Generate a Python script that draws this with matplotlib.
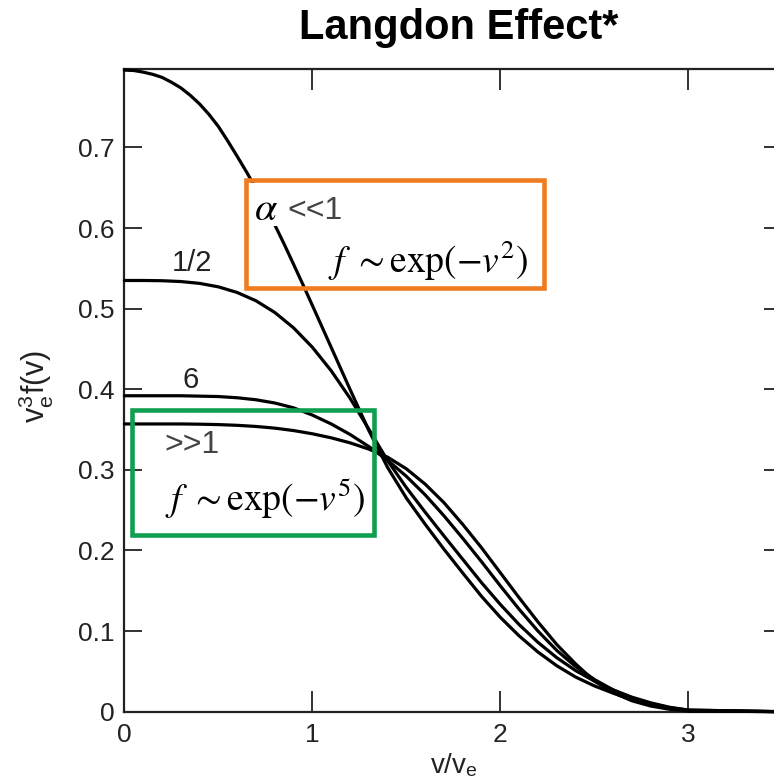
import matplotlib.pyplot as plt
from matplotlib.patches import Rectangle

plt.rcParams['font.family'] = ['Liberation Sans', 'DejaVu Sans']
plt.rcParams['mathtext.fontset'] = 'stix'

# v / v_e
v_grid = [0.0, 0.1, 0.2, 0.3, 0.4, 0.5, 0.6, 0.7, 0.8, 0.9,
          1.0, 1.1, 1.2, 1.3, 1.4, 1.5, 1.6, 1.7, 1.8, 1.9,
          2.0, 2.1, 2.2, 2.3, 2.4, 2.5, 2.6, 2.7, 2.8, 2.9,
          3.0, 3.5]
# the steep alpha << 1 curve is read at a finer step near the top
v_grid_small = [0.0, 0.05, 0.1, 0.15, 0.2, 0.25, 0.3, 0.35, 0.4, 0.45,
                0.5, 0.55, 0.6, 0.65, 0.7, 0.75, 0.8, 0.85, 0.9, 0.95,
                1.0, 1.1, 1.2, 1.3, 1.4, 1.5, 1.6, 1.7, 1.8, 1.9,
                2.0, 2.1, 2.2, 2.3, 2.4, 2.5, 2.6, 2.7, 2.8, 2.9,
                3.0, 3.5]

# v_e^3 f(v)
f_alpha_small = [0.796, 0.7955, 0.7935, 0.7908, 0.787, 0.781, 0.774, 0.7648, 0.754, 0.741,
                 0.726, 0.708, 0.689, 0.6695, 0.649, 0.627, 0.604, 0.580, 0.555, 0.5297,
                 0.504, 0.452, 0.400, 0.349, 0.303, 0.265, 0.2325, 0.2015, 0.172, 0.143,
                 0.117, 0.094, 0.074, 0.057, 0.043, 0.032, 0.023, 0.015, 0.009, 0.004,
                 0.001, 0.0]
f_alpha_half = [0.535, 0.535, 0.5347, 0.5337, 0.5314, 0.5271, 0.5201, 0.5098, 0.4953, 0.4762,
                0.4521, 0.4230, 0.3890, 0.3506, 0.3115, 0.278, 0.2475, 0.218, 0.189, 0.160,
                0.133, 0.108, 0.086, 0.067, 0.051, 0.038, 0.027, 0.018, 0.011, 0.0055,
                0.002, 0.0]
f_alpha_six = [0.392, 0.392, 0.392, 0.392, 0.3915, 0.391, 0.3895, 0.387, 0.383, 0.377,
               0.368, 0.357, 0.344, 0.329, 0.312, 0.292, 0.269, 0.243, 0.215, 0.186,
               0.156, 0.127, 0.100, 0.076, 0.056, 0.040, 0.027, 0.017, 0.010, 0.005,
               0.002, 0.0]
f_alpha_large = [0.357, 0.357, 0.357, 0.357, 0.3567, 0.3562, 0.3553, 0.3539, 0.3518, 0.3488,
                 0.3448, 0.3398, 0.3336, 0.3258, 0.3158, 0.3013, 0.2823, 0.2593, 0.2323, 0.2033,
                 0.1723, 0.1413, 0.1113, 0.0833, 0.0593, 0.038, 0.0235, 0.0135, 0.007, 0.003,
                 0.001, 0.0]

x_ticks = [0, 1, 2, 3]
y_ticks = [0, 0.1, 0.2, 0.3, 0.4, 0.5, 0.6, 0.7]
y_ticklabels = ['0', '0.1', '0.2', '0.3', '0.4', '0.5', '0.6', '0.7']

W, H = 774, 784


def fx(x):
    return x / W


def fy(y):
    return 1 - y / H


fig = plt.figure(figsize=(W / 100, H / 100), dpi=100)
# right spine sits just outside the picture, like in the cropped original
ax = fig.add_axes([fx(124.4), fy(711.7), 658 / W, 643.2 / H])

curves = [(v_grid_small, f_alpha_small), (v_grid, f_alpha_half),
          (v_grid, f_alpha_six), (v_grid, f_alpha_large)]
for v, f in curves:
    ax.plot(v, f, color='black', lw=2.3, solid_capstyle='round',
            solid_joinstyle='round', clip_on=False, zorder=3)

ax.set_xlim(0, 3.5)
ax.set_ylim(0, 0.798)
ax.set_xticks(x_ticks)
ax.set_yticks(y_ticks)
ax.set_yticklabels(y_ticklabels)
ax.tick_params(axis='x', direction='in', length=15, width=1.3, color='#222222',
               labelsize=19, labelcolor='#222222', pad=8, top=True)
ax.tick_params(axis='y', direction='in', length=13, width=1.3, color='#222222',
               labelsize=19, labelcolor='#222222', pad=7, right=True)
for s in ax.spines.values():
    s.set_linewidth(1.6)
    s.set_color('#222222')

fig.text(fx(454), fy(766), r'v/v$_\mathregular{e}$', fontsize=20, color='#222222',
         ha='center', va='center')
fig.text(fx(36), fy(386), r'v$_\mathregular{e}^\mathregular{3}$f(v)', fontsize=22,
         color='#222222', rotation=90, ha='center', va='center')

# curve labels
ax.text(0.358, 0.557, '1/2', fontsize=21, color='#222222', ha='center', va='center')
ax.text(0.352, 0.411, '6', fontsize=21, color='#222222', ha='center', va='center')

fig.text(fx(459), fy(28), 'Langdon Effect*', fontsize=30, fontweight='bold',
         ha='center', va='center')

# orange box: alpha << 1 (Maxwellian)
fig.add_artist(Rectangle((fx(248), fy(226)), (360 - 248) / W, (226 - 183) / H,
                         transform=fig.transFigure, facecolor='white',
                         edgecolor='none', zorder=5))
fig.add_artist(Rectangle((fx(246), fy(288)), (544 - 246) / W, (288 - 180) / H,
                         transform=fig.transFigure, facecolor='none',
                         edgecolor='#F07C21', lw=3.3, zorder=7))
fig.text(fx(266), fy(209), r'$\alpha$', fontsize=29, ha='center', va='center', zorder=6)
fig.text(fx(287), fy(211), '<<1', fontsize=23, color='#444444', ha='left',
         va='center', zorder=6)
fig.text(fx(328), fy(273), r'$f\ {\sim}\mathrm{exp}(-v^{2})$', fontsize=27,
         ha='left', va='baseline', zorder=6)

# green box: alpha >> 1
fig.add_artist(Rectangle((fx(132), fy(535)), (373.5 - 132) / W, (535 - 410) / H,
                         transform=fig.transFigure, facecolor='none',
                         edgecolor='#0E9F50', lw=3.3, zorder=7))
fig.text(fx(164), fy(445), '>>1', fontsize=23, color='#444444', ha='left',
         va='center', zorder=6)
fig.text(fx(165), fy(511), r'$f\ {\sim}\mathrm{exp}(-v^{5})$', fontsize=27,
         ha='left', va='baseline', zorder=6)

fig.savefig('out.png', dpi=100)
